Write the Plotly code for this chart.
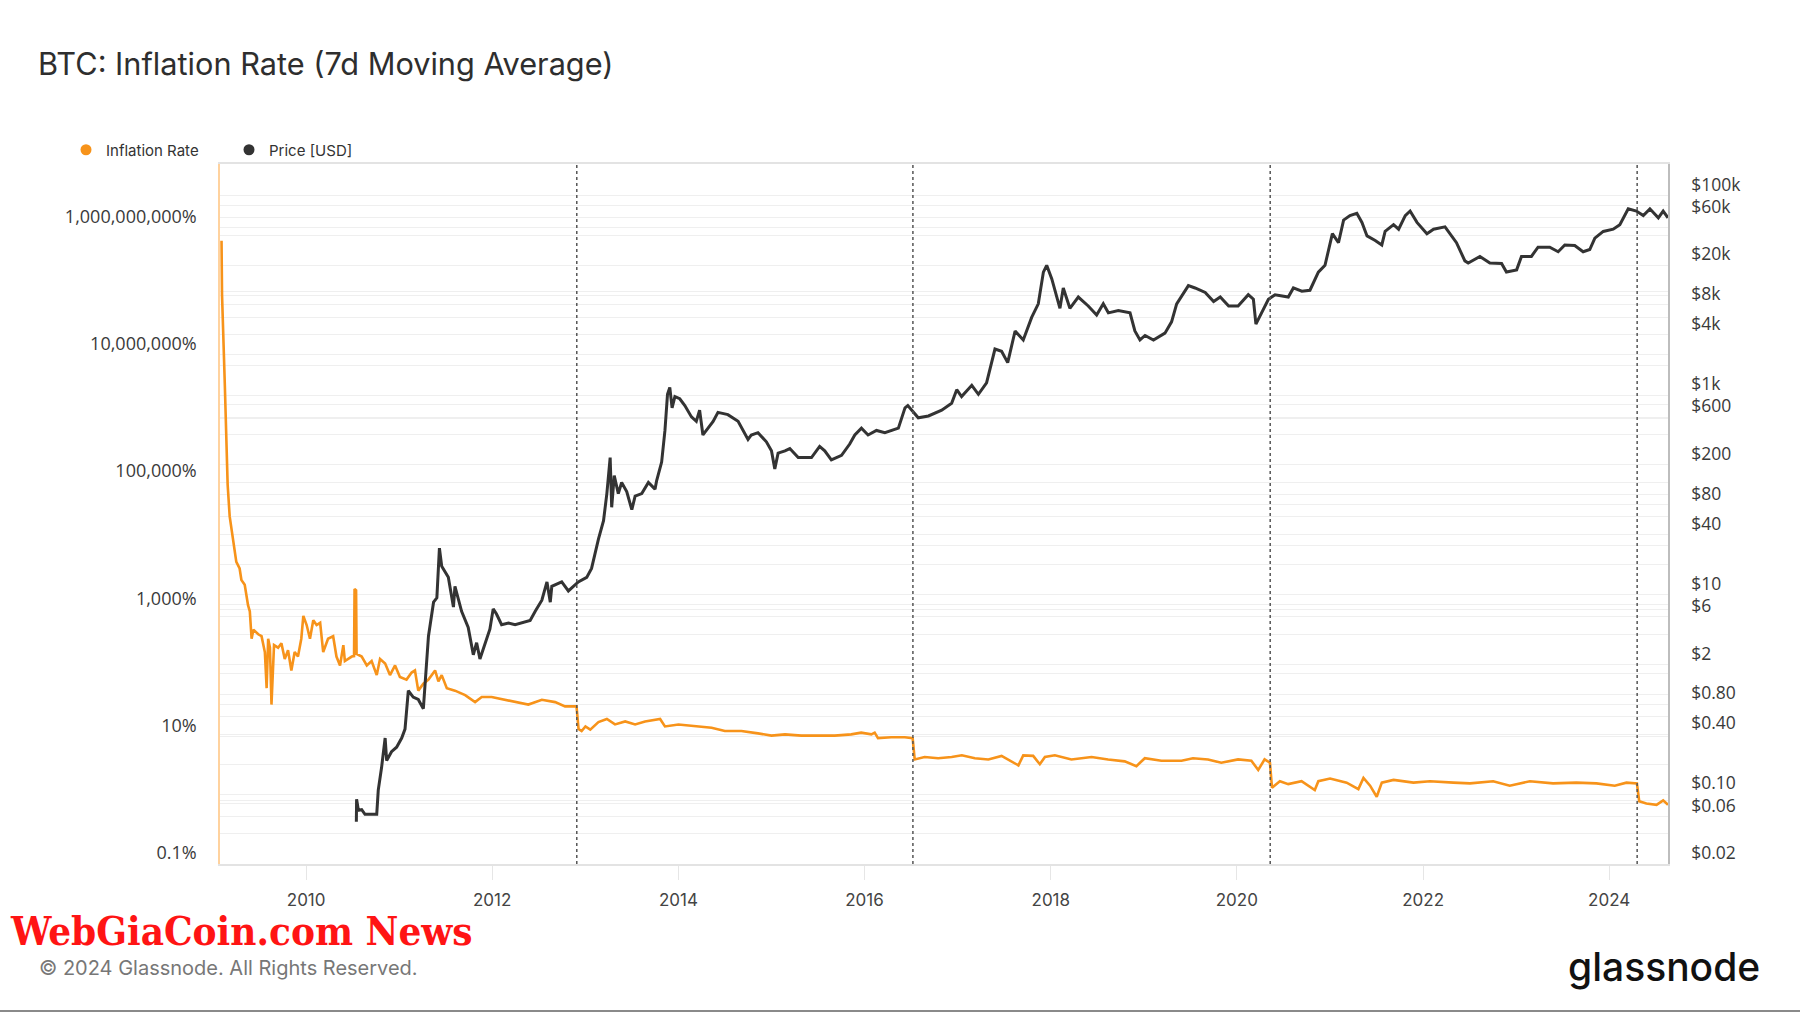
import math
import plotly.graph_objects as go

# ---------------- data ----------------
inflation_dates = [
    "2009-02-03", "2009-02-05", "2009-02-16", "2009-02-27", "2009-03-07", "2009-03-20",
    "2009-04-02", "2009-04-15", "2009-04-22", "2009-05-05", "2009-05-18", "2009-05-25",
    "2009-06-01", "2009-06-08", "2009-06-27", "2009-07-10", "2009-07-23", "2009-07-30",
    "2009-08-05", "2009-08-12", "2009-08-18", "2009-08-28", "2009-09-13", "2009-09-26",
    "2009-10-09", "2009-10-22", "2009-11-04", "2009-11-17", "2009-11-30", "2009-12-13",
    "2009-12-21", "2010-01-03", "2010-01-16", "2010-01-29", "2010-02-11", "2010-02-25",
    "2010-03-09", "2010-03-28", "2010-04-17", "2010-04-30", "2010-05-14", "2010-05-27",
    "2010-06-02", "2010-06-29", "2010-07-08", "2010-07-10", "2010-07-16", "2010-07-18",
    "2010-08-07", "2010-08-27", "2010-09-15", "2010-10-05", "2010-10-18", "2010-11-07",
    "2010-11-26", "2010-12-16", "2011-01-04", "2011-01-30", "2011-02-19", "2011-03-04",
    "2011-03-17", "2011-04-06", "2011-04-26", "2011-05-22", "2011-06-04", "2011-06-17",
    "2011-07-07", "2011-08-08", "2011-09-17", "2011-10-26", "2011-11-21", "2011-12-30",
    "2012-02-20", "2012-04-13", "2012-05-22", "2012-07-14", "2012-09-04", "2012-10-13",
    "2012-11-27", "2012-12-05", "2012-12-17", "2013-01-01", "2013-01-20", "2013-02-21",
    "2013-03-26", "2013-04-27", "2013-06-06", "2013-07-15", "2013-08-23", "2013-10-21",
    "2013-11-09", "2014-01-01", "2014-03-07", "2014-05-11", "2014-07-02", "2014-09-05",
    "2014-11-09", "2015-01-01", "2015-02-23", "2015-04-28", "2015-07-03", "2015-09-06",
    "2015-11-10", "2015-12-19", "2016-01-28", "2016-02-10", "2016-02-23", "2016-04-15",
    "2016-06-07", "2016-07-08", "2016-07-16", "2016-08-24", "2016-10-16", "2016-12-08",
    "2017-01-17", "2017-03-09", "2017-05-01", "2017-06-22", "2017-08-27", "2017-09-15",
    "2017-10-24", "2017-11-19", "2017-12-09", "2018-01-17", "2018-03-23", "2018-06-10",
    "2018-08-14", "2018-10-18", "2018-12-03", "2019-01-05", "2019-03-11", "2019-05-29",
    "2019-07-13", "2019-09-10", "2019-11-01", "2020-01-06", "2020-02-27", "2020-03-25",
    "2020-04-19", "2020-05-10", "2020-05-18", "2020-06-18", "2020-07-21", "2020-09-11",
    "2020-11-02", "2020-11-16", "2021-01-01", "2021-03-07", "2021-04-22", "2021-05-12",
    "2021-06-07", "2021-07-03", "2021-07-23", "2021-09-07", "2021-11-24", "2022-01-28",
    "2022-04-30", "2022-07-04", "2022-10-03", "2022-12-07", "2023-02-24", "2023-05-26",
    "2023-08-25", "2023-11-12", "2024-01-23", "2024-03-09", "2024-04-19", "2024-04-28",
    "2024-05-26", "2024-07-05", "2024-07-31", "2024-08-19",
]
inflation_rate_pct = [
    6.2e8, 8.7e7, 3.3e6, 9.1e4, 2.9e4, 1.26e4,
    5600, 4400, 2900, 2450, 1170, 930,
    347, 480, 407, 380, 214, 58,
    347, 251, 32, 275, 251, 295,
    166, 229, 110, 214, 182, 347,
    794, 569, 347, 676, 569, 617,
    214, 347, 380, 182, 132, 275,
    155, 182, 185, 2090, 2000, 200,
    182, 132, 155, 93, 166, 141,
    93, 132, 87, 79, 102, 110,
    53, 68, 79, 110, 74, 93,
    58, 53, 45, 35, 42, 42,
    38, 35, 32, 38, 35, 30,
    30, 13.2, 12.3, 14.5, 12.9, 17.0,
    19.0, 15.6, 17.4, 15.6, 17.4, 19.0,
    14.5, 15.6, 14.5, 13.8, 12.3, 12.3,
    11.3, 10.4, 10.9, 10.4, 10.4, 10.4,
    10.9, 11.6, 10.9, 11.6, 9.5, 9.8,
    9.8, 9.5, 4.4, 4.8, 4.6, 4.8,
    5.1, 4.6, 4.4, 5.0, 3.55, 5.1,
    5.0, 3.7, 4.8, 5.1, 4.4, 4.8,
    4.4, 4.1, 3.45, 4.6, 4.2, 4.2,
    4.6, 4.4, 3.9, 4.4, 4.2, 3.0,
    4.4, 3.9, 1.58, 2.0, 1.8, 2.0,
    1.45, 2.0, 2.2, 1.9, 1.5, 2.25,
    1.7, 1.14, 1.9, 2.1, 1.9, 2.0,
    1.9, 1.85, 2.0, 1.7, 2.0, 1.85,
    1.9, 1.85, 1.7, 1.9, 1.85, 0.97,
    0.89, 0.85, 1.0, 0.85,
]

price_dates = [
    "2010-07-17", "2010-07-18", "2010-07-25", "2010-08-07", "2010-08-20", "2010-10-05",
    "2010-10-11", "2010-10-24", "2010-11-07", "2010-11-13", "2010-12-02", "2010-12-22",
    "2011-01-11", "2011-01-24", "2011-02-06", "2011-02-25", "2011-03-17", "2011-04-06",
    "2011-04-26", "2011-05-16", "2011-05-29", "2011-06-08", "2011-06-17", "2011-07-13",
    "2011-08-02", "2011-08-08", "2011-09-03", "2011-09-29", "2011-10-19", "2011-11-01",
    "2011-11-14", "2011-12-04", "2011-12-23", "2012-01-05", "2012-01-18", "2012-02-07",
    "2012-03-05", "2012-03-31", "2012-04-26", "2012-05-29", "2012-06-18", "2012-07-14",
    "2012-08-03", "2012-08-16", "2012-08-22", "2012-09-30", "2012-10-26", "2012-12-04",
    "2013-01-06", "2013-01-25", "2013-02-21", "2013-03-13", "2013-03-26", "2013-04-08",
    "2013-04-14", "2013-04-24", "2013-05-10", "2013-05-23", "2013-06-12", "2013-07-02",
    "2013-07-15", "2013-08-10", "2013-09-05", "2013-10-01", "2013-10-07", "2013-10-27",
    "2013-11-09", "2013-11-19", "2013-11-28", "2013-12-07", "2013-12-18", "2014-01-06",
    "2014-01-26", "2014-02-21", "2014-03-12", "2014-03-25", "2014-04-07", "2014-04-27",
    "2014-05-17", "2014-06-05", "2014-07-14", "2014-08-23", "2014-10-01", "2014-10-14",
    "2014-11-09", "2014-12-12", "2015-01-01", "2015-01-14", "2015-01-27", "2015-02-23",
    "2015-03-14", "2015-04-16", "2015-06-07", "2015-07-09", "2015-07-29", "2015-08-24",
    "2015-10-03", "2015-11-04", "2015-11-24", "2015-12-20", "2016-01-15", "2016-02-17",
    "2016-03-21", "2016-05-13", "2016-06-08", "2016-06-19", "2016-07-10", "2016-07-30",
    "2016-09-08", "2016-10-30", "2016-12-08", "2016-12-28", "2017-01-16", "2017-02-25",
    "2017-03-23", "2017-04-24", "2017-05-27", "2017-06-22", "2017-07-16", "2017-08-14",
    "2017-09-15", "2017-10-18", "2017-11-13", "2017-12-03", "2017-12-16", "2018-01-05",
    "2018-02-06", "2018-02-19", "2018-03-17", "2018-04-19", "2018-05-28", "2018-06-30",
    "2018-07-26", "2018-08-15", "2018-09-23", "2018-11-08", "2018-11-27", "2018-12-17",
    "2019-01-06", "2019-02-08", "2019-03-25", "2019-04-20", "2019-05-10", "2019-06-25",
    "2019-07-21", "2019-08-30", "2019-10-02", "2019-10-28", "2019-11-30", "2020-01-06",
    "2020-02-15", "2020-03-06", "2020-03-16", "2020-04-07", "2020-05-04", "2020-05-30",
    "2020-07-21", "2020-08-10", "2020-09-12", "2020-10-14", "2020-11-16", "2020-12-12",
    "2021-01-10", "2021-02-03", "2021-02-23", "2021-03-20", "2021-04-16", "2021-05-06",
    "2021-05-26", "2021-06-27", "2021-07-23", "2021-08-05", "2021-09-07", "2021-09-27",
    "2021-10-23", "2021-11-11", "2021-12-08", "2022-01-16", "2022-02-11", "2022-03-28",
    "2022-05-12", "2022-06-14", "2022-06-27", "2022-08-12", "2022-09-20", "2022-11-05",
    "2022-11-24", "2023-01-03", "2023-01-22", "2023-03-02", "2023-03-28", "2023-05-13",
    "2023-06-15", "2023-07-11", "2023-08-19", "2023-09-21", "2023-10-17", "2023-11-06",
    "2023-12-09", "2024-01-17", "2024-02-12", "2024-03-16", "2024-04-17", "2024-05-14",
    "2024-06-09", "2024-07-12", "2024-07-31", "2024-08-19",
]
price_usd = [
    0.053, 0.089, 0.069, 0.070, 0.063, 0.063,
    0.11, 0.185, 0.366, 0.217, 0.267, 0.296,
    0.366, 0.45, 1.09, 0.94, 0.89, 0.72,
    3.83, 8.4, 9.3, 29.2, 19.3, 14.9,
    7.5, 12.1, 6.8, 4.7, 2.5, 3.3,
    2.27, 3.3, 4.5, 7.2, 6.4, 5.0,
    5.2, 5.0, 5.2, 5.5, 6.8, 8.8,
    13.4, 8.4, 12.1, 13.4, 10.9, 13.4,
    14.9, 18.3, 36, 55, 103, 236,
    75, 156, 103, 133, 108, 71,
    97, 103, 133, 114, 137, 213,
    442, 1018, 1191, 745, 966, 918,
    785, 604, 545, 706, 398, 466,
    545, 670, 636, 545, 359, 398,
    420, 340, 276, 182, 262, 276,
    291, 236, 236, 306, 276, 224,
    249, 323, 398, 466, 398, 442,
    420, 466, 745, 785, 670, 592,
    617, 706, 826, 1130, 966, 1253,
    1018, 1321, 2890, 2740, 2113, 4385,
    3562, 6000, 8200, 17060, 19950, 14590,
    7400, 11830, 7400, 9590, 7800, 6330,
    8200, 6660, 7020, 6660, 4385, 3562,
    3955, 3562, 4170, 5410, 8200, 12470,
    11830, 10660, 8650, 9590, 7800, 7800,
    10120, 9120, 5130, 6660, 9120, 10120,
    9590, 11830, 10990, 11220, 17060, 19950,
    41400, 33600, 56600, 62800, 66200, 53700,
    39300, 35400, 31900, 43600, 51000, 45900,
    62800, 69800, 53700, 41400, 45900, 48400,
    33600, 22100, 21000, 24500, 21000, 20800,
    17060, 17950, 24500, 24500, 30300, 30300,
    27300, 31900, 31500, 27300, 28700, 37300,
    43600, 45900, 51000, 73400, 69800, 62800,
    73400, 59700, 69800, 59700,
]

halving_dates = ["2012-11-28", "2016-07-09", "2020-05-11", "2024-04-20"]

x_tick_dates = ["2010-01-01", "2012-01-01", "2014-01-01", "2016-01-01",
                "2018-01-01", "2020-01-01", "2022-01-01", "2024-01-01"]
x_tick_text = ["2010", "2012", "2014", "2016", "2018", "2020", "2022", "2024"]

infl_tick_vals = [0.1, 1, 10, 100, 1e3, 1e4, 1e5, 1e6, 1e7, 1e8, 1e9, 1e10]
infl_tick_text = ["0.1%", "", "10%", "", "1,000%", "", "100,000%", "",
                  "10,000,000%", "", "1,000,000,000%", ""]

price_tick_vals = [0.02, 0.04, 0.06, 0.08, 0.1, 0.2, 0.4, 0.6, 0.8, 1, 2, 4, 6, 8,
                   10, 20, 40, 60, 80, 100, 200, 400, 600, 800, 1000, 2000, 4000,
                   6000, 8000, 10000, 20000, 40000, 60000, 80000, 100000]
price_tick_text = ["$0.02", "", "$0.06", "", "$0.10", "", "$0.40", "", "$0.80", "",
                   "$2", "", "$6", "", "$10", "", "$40", "", "$80", "", "$200", "",
                   "$600", "", "$1k", "", "$4k", "", "$8k", "", "$20k", "", "$60k", "",
                   "$100k"]

# ---------------- style ----------------
ORANGE = "#f7931a"
DARK = "#333333"
GRID = "#efefef"
W, H = 1800, 1013
L, R, T, B = 220, 132, 164, 149
PW, PH = W - L - R, H - T - B


def px_x(p):
    return (p - L) / PW


def px_y(p):
    return (H - B - p) / PH


fig = go.Figure()

fig.add_trace(go.Scatter(
    x=inflation_dates, y=inflation_rate_pct, mode="lines", name="Inflation Rate",
    line=dict(color=ORANGE, width=2.6), showlegend=False, yaxis="y"))
fig.add_trace(go.Scatter(
    x=price_dates, y=price_usd, mode="lines", name="Price [USD]",
    line=dict(color=DARK, width=3), showlegend=False, yaxis="y2"))

# legend entries (dot markers like the reference)
fig.add_trace(go.Scatter(x=[None], y=[None], mode="markers", name="Inflation Rate",
                         marker=dict(color=ORANGE, size=11), yaxis="y"))
fig.add_trace(go.Scatter(x=[None], y=[None], mode="markers", name="Price [USD]",
                         marker=dict(color=DARK, size=11), yaxis="y2"))

shapes = []
for d in halving_dates:
    shapes.append(dict(type="line", xref="x", yref="paper", x0=d, x1=d, y0=0, y1=1,
                       line=dict(color="#555555", width=1.5, dash="dot"), layer="above"))
# bottom border of the image
shapes.append(dict(type="line", xref="paper", yref="paper", x0=px_x(0), x1=px_x(W),
                   y0=px_y(1011), y1=px_y(1011), line=dict(color="#8a8a8a", width=2)))

annotations = [
    dict(text="WebGiaCoin.com News", xref="paper", yref="paper", x=px_x(8), y=px_y(930),
         xanchor="left", yanchor="middle", showarrow=False,
         font=dict(family="DejaVu Serif Condensed, DejaVu Serif", size=40,
                   color="#ff1414", weight="bold")),
    dict(text="© 2024 Glassnode. All Rights Reserved.", xref="paper", yref="paper",
         x=px_x(37), y=px_y(968), xanchor="left", yanchor="middle", showarrow=False,
         font=dict(family="Inter", size=20, color="#777777")),
    dict(text="glassnode", xref="paper", yref="paper", x=px_x(1566), y=px_y(966),
         xanchor="left", yanchor="middle", showarrow=False,
         font=dict(family="Inter", size=39, color="#111111", weight=500)),
]

fig.update_layout(
    width=W, height=H, autosize=False,
    margin=dict(l=L, r=R, t=T, b=B, pad=0, autoexpand=False),
    paper_bgcolor="white", plot_bgcolor="white",
    title=dict(text="BTC: Inflation Rate (7d Moving Average)", xref="container",
               yref="container", x=38 / W, xanchor="left", y=1 - 64 / H, yanchor="middle",
               pad=dict(l=0, r=0, t=0, b=0),
               font=dict(family="Inter", size=30.7, color="#2e2e2e")),
    legend=dict(orientation="h", xref="container", yref="container",
                x=66 / W, y=1 - 150 / H, xanchor="left", yanchor="middle",
                font=dict(family="Inter", size=15, color="#333333"),
                bgcolor="rgba(0,0,0,0)", entrywidth=118, entrywidthmode="pixels",
                itemclick=False),
    xaxis=dict(type="date", range=["2009-01-28", "2024-08-19"],
               tickvals=x_tick_dates, ticktext=x_tick_text,
               showgrid=False, ticks="outside", ticklen=14, tickcolor="#e6e6e6",
               tickwidth=1, showline=True, mirror=True, linecolor="#e3e3e3", linewidth=1.5,
               tickfont=dict(family="Inter", size=17, color="#444444"),
               ticklabelstandoff=6, zeroline=False),
    yaxis=dict(type="log", range=[-1, 10], tickvals=infl_tick_vals, ticktext=infl_tick_text,
               showgrid=True, gridcolor=GRID, gridwidth=1, ticks="", showline=True,
               linecolor="#ffd29e", linewidth=1.5, zeroline=False, ticklabelshift=-11,
               ticklabelstandoff=18,
               tickfont=dict(family="Open Sans", size=18, color="#3a3a3a")),
    yaxis2=dict(type="log", overlaying="y", side="right",
                range=[math.log10(0.02), math.log10(0.02) + 7.014],
                tickvals=price_tick_vals, ticktext=price_tick_text,
                showgrid=True, gridcolor=GRID, gridwidth=1, ticks="", showline=True,
                linecolor="#bdbdbd", linewidth=1.5, zeroline=False, ticklabelshift=-11,
                ticklabelstandoff=18,
                tickfont=dict(family="Open Sans", size=17.5, color="#3a3a3a")),
    shapes=shapes, annotations=annotations,
    hovermode="x unified",
)

fig.write_html(
    "out.html",
    config={"displayModeBar": False},
    post_script="document.body.style.margin='0';document.body.style.overflow='hidden';",
)
